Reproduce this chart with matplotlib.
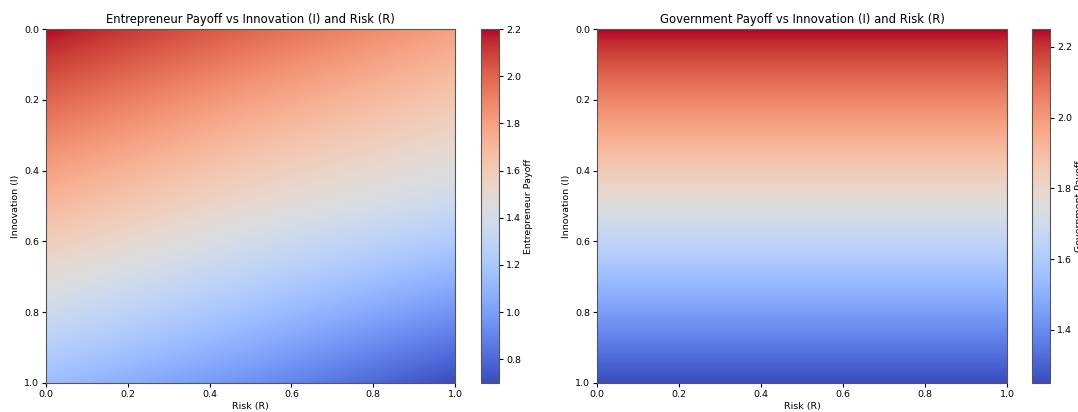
import numpy as np
import matplotlib
matplotlib.use("Agg")
import matplotlib.pyplot as plt

# payoff values at grid nodes
risk = [0.0, 0.5, 1.0]
innovation = [0.0, 0.5, 1.0]
entrepreneur = [[2.2, 2.0, 1.8],
                [1.7, 1.5, 1.35],
                [1.15, 0.95, 0.7]]

gov_innovation = [0.0, 0.25, 0.5, 0.75, 1.0]
gov_risk = [0.0, 1.0]
government = [[2.25, 2.25],
              [2.0, 2.0],
              [1.75, 1.75],
              [1.5, 1.5],
              [1.25, 1.25]]

W, H = 1078, 412
fig = plt.figure(figsize=(W / 100, H / 100), dpi=100)
small = 6.8

def px(x0, y0, w, h):
    return [x0 / W, 1 - (y0 + h) / H, w / W, h / H]

def draw(ax_rect, cb_rect, x, y, z, vmin, vmax, title, cb_label):
    ax = fig.add_axes(px(*ax_rect))
    # put pixel centres on the grid nodes so the image blends between them
    dx = (x[-1] - x[0]) / (len(x) - 1)
    dy = (y[-1] - y[0]) / (len(y) - 1)
    ext = [x[0] - dx / 2, x[-1] + dx / 2, y[-1] + dy / 2, y[0] - dy / 2]
    m = ax.imshow(np.array(z), cmap="coolwarm", vmin=vmin, vmax=vmax, extent=ext,
                  origin="upper", aspect="auto", interpolation="bilinear",
                  interpolation_stage="data")
    ax.set_xlim(0, 1)
    ax.set_ylim(1, 0)
    ax.set_title(title, fontsize=8.4, pad=4)
    ax.set_xlabel("Risk (R)", fontsize=small, labelpad=2)
    ax.set_ylabel("Innovation (I)", fontsize=small, labelpad=3)
    ax.tick_params(labelsize=small, length=3, pad=2)
    for s in ax.spines.values():
        s.set_color("#555555")
    cax = fig.add_axes(px(*cb_rect))
    cb = fig.colorbar(m, cax=cax)
    cb.ax.tick_params(labelsize=small, length=3, pad=2)
    cb.outline.set_edgecolor("#555555")
    cb.set_label(cb_label, fontsize=small, labelpad=2)
    return ax

draw((46, 29, 409, 354), (481, 29, 18, 354), risk, innovation, entrepreneur,
     0.7, 2.2, "Entrepreneur Payoff vs Innovation (I) and Risk (R)", "Entrepreneur Payoff")
draw((597, 29, 410, 354), (1032, 29, 18, 354), gov_risk, gov_innovation, government,
     1.25, 2.25, "Government Payoff vs Innovation (I) and Risk (R)", "Government Payoff")

fig.savefig("out.png", dpi=100)
